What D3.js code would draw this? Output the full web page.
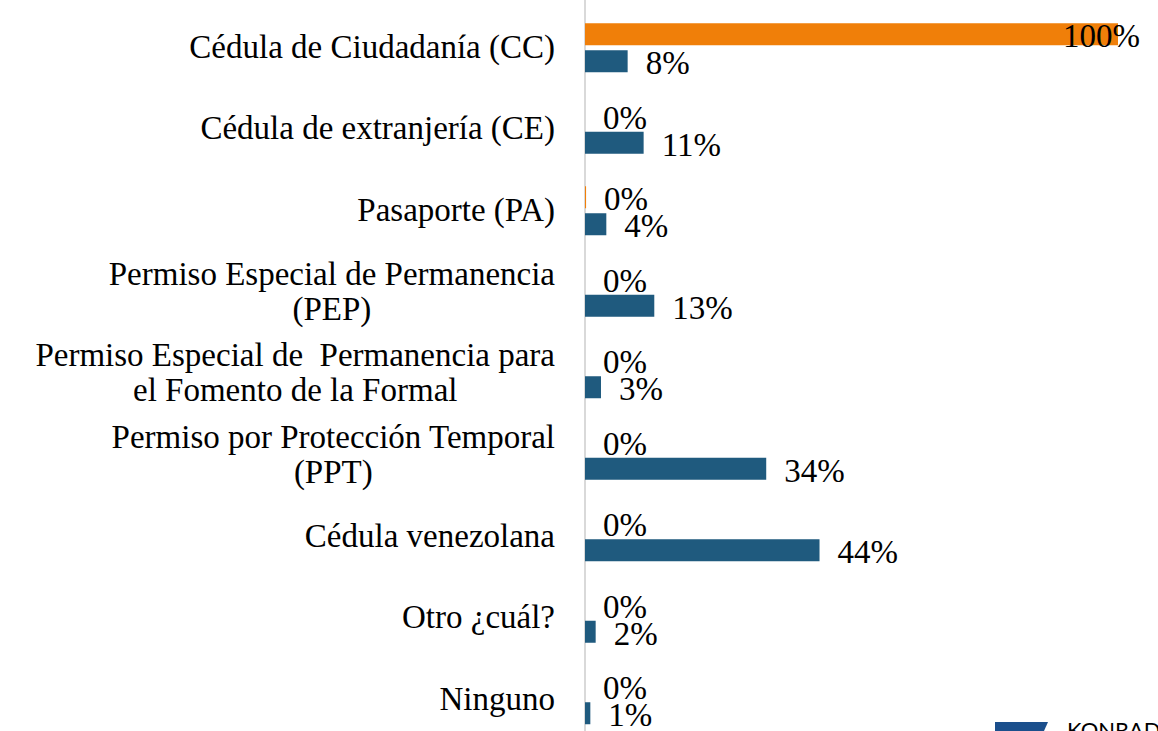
<!DOCTYPE html>
<html>
<head>
<meta charset="utf-8">
<script src="https://cdn.jsdelivr.net/npm/d3@7"></script>
<style>
  html, body { margin: 0; padding: 0; background: #ffffff; }
  svg { display: block; }
  text { font-family: "Liberation Serif", "DejaVu Serif", serif; fill: #000; }
</style>
</head>
<body>
<svg id="chart" width="1158" height="731"></svg>
<script>
// ---- Data ----
const categories = [
  "Cédula de Ciudadanía (CC)",
  "Cédula de extranjería (CE)",
  "Pasaporte (PA)",
  "Permiso Especial de Permanencia\n(PEP)",
  "Permiso Especial de  Permanencia para\nel Fomento de la Formal",
  "Permiso por Protección Temporal\n(PPT)",
  "Cédula venezolana",
  "Otro ¿cuál?",
  "Ninguno"
];
const seriesNames = ["Colombianos", "Venezolanos"];
const orangeValues = [100, 0, 0.2, 0, 0, 0, 0, 0, 0];
const blueValues   = [8, 11, 4, 13, 3, 34, 44, 2, 1];
const orangeLabels = ["100%", "0%", "0%", "0%", "0%", "0%", "0%", "0%", "0%"];
const blueLabels   = ["8%", "11%", "4%", "13%", "3%", "34%", "44%", "2%", "1%"];
const colors = ["#F07F09", "#1F5A7E"];

// ---- Layout ----
const W = 1158, H = 731;
const svg = d3.select("#chart");

const x = d3.scaleLinear().domain([0, 100]).range([585, 1118]);
const y = d3.scaleBand().domain(categories).range([7, 7 + 81.5 * categories.length]);
const ySub = d3.scaleBand().domain(seriesNames).range([0, y.bandwidth()])
  .paddingInner(5 / 27).paddingOuter(0.602);

const rows = categories.map((c, i) => ({
  cat: c,
  vals: [
    { s: seriesNames[0], v: orangeValues[i], label: orangeLabels[i], color: colors[0] },
    { s: seriesNames[1], v: blueValues[i], label: blueLabels[i], color: colors[1] }
  ]
}));

// axis line
svg.append("line")
  .attr("x1", x(0)).attr("x2", x(0))
  .attr("y1", 0).attr("y2", H)
  .attr("stroke", "#d9d9d9").attr("stroke-width", 2);

const g = svg.selectAll("g.row").data(rows).join("g")
  .attr("class", "row")
  .attr("transform", d => `translate(0,${y(d.cat)})`);

g.selectAll("rect").data(d => d.vals).join("rect")
  .attr("x", x(0))
  .attr("y", d => ySub(d.s))
  .attr("width", d => x(d.v) - x(0))
  .attr("height", ySub.bandwidth())
  .attr("fill", d => d.color);

// value labels
g.selectAll("text.val").data(d => d.vals).join("text")
  .attr("class", "val")
  .attr("font-size", 33)
  .each(function(d) {
    const t = d3.select(this);
    const yy = ySub(d.s) + ySub.bandwidth() / 2 + 13;
    let xx = x(d.v) + 18;
    t.text(d.label).attr("y", yy);
    const w = this.getComputedTextLength();
    if (xx + w > W - 18) {
      t.attr("x", W - 18).attr("text-anchor", "end");
    } else {
      t.attr("x", xx).attr("text-anchor", "start");
    }
  });

// category labels (block right-aligned at 555, lines centred within block)
const labelSize = 33;
const labelRight = 555;
g.append("text")
  .attr("class", "cat")
  .attr("text-anchor", "middle")
  .attr("font-size", labelSize)
  .style("white-space", "pre")
  .each(function(d) {
    const lines = d.cat.split("\n");
    const c = y.bandwidth() / 2;
    const t = d3.select(this);
    const spans = lines.map((ln, i) => t.append("tspan")
        .attr("y", c + 10 + (i - (lines.length - 1) / 2) * 35)
        .text(ln));
    const maxW = d3.max(spans, s => s.node().getComputedTextLength());
    spans.forEach(s => s.attr("x", labelRight - maxW / 2));
  });

// partial logo bottom-right
svg.append("path")
  .attr("d", "M995,722 L1048,722 L1040,740 L995,740 Z")
  .attr("fill", "#1B4F8C");
svg.append("text")
  .attr("x", 1067).attr("y", 738)
  .attr("font-size", 22)
  .style("font-family", "Lato, 'Open Sans', sans-serif")
  .attr("fill", "#222")
  .text("KONRAD");
</script>
</body>
</html>
